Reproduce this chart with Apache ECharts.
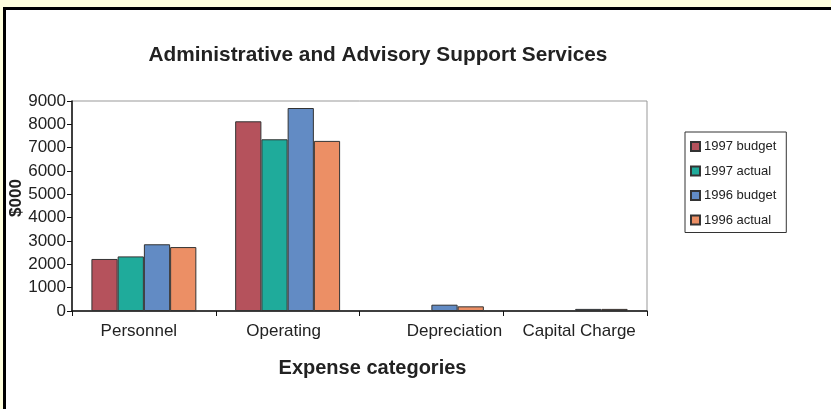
<!DOCTYPE html>
<html><head><meta charset="utf-8">
<script src="https://cdn.jsdelivr.net/npm/echarts@6/dist/echarts.min.js"></script>
<style>html,body{margin:0;padding:0;background:#FFFFDD;}#c{width:831px;height:409px;}</style>
</head><body><div id="c"></div>
<script>
var categories = ['Personnel', 'Operating', 'Depreciation', 'Capital Charge'];
var seriesNames = ['1997 budget', '1997 actual', '1996 budget', '1996 actual'];
var budget1997 = [2230, 8130, null, null];
var actual1997 = [2340, 7360, null, null];
var budget1996 = [2860, 8700, 270, 90];
var actual1996 = [2740, 7290, 200, 90];
var yTicks = [0, 1000, 2000, 3000, 4000, 5000, 6000, 7000, 8000, 9000];
var colors = ['#B5525C', '#1FAB9B', '#628BC4', '#EC8F65'];
var values = [budget1997, actual1997, budget1996, actual1996];

var chart = echarts.init(document.getElementById('c'));
var font = 'Liberation Sans, Arial, sans-serif';
// per-label horizontal nudges (Excel placed category labels slightly off-centre)
var labelPad = [[0, 10, 0, 0], [0, 8, 0, 0], [0, 0, 0, 46], [0, 0, 0, 8]];
var rich = {};
labelPad.forEach(function (p, i) {
  rich['c' + i] = {fontFamily: font, fontSize: 17, color: '#222', padding: p};
});
chart.setOption({
  backgroundColor: '#FFFFDD',
  animation: false,
  color: colors,
  graphic: [
    {type: 'rect', z: -10, shape: {x: 3, y: 7, width: 900, height: 500}, style: {fill: '#000'}},
    {type: 'rect', z: -9, shape: {x: 6, y: 10, width: 900, height: 500}, style: {fill: '#fff'}}
  ],
  title: {
    text: 'Administrative and Advisory Support Services',
    left: 373, textAlign: 'center', top: 40,
    textStyle: {fontFamily: font, fontSize: 20.8, fontWeight: 'bold', color: '#222'}
  },
  legend: {
    orient: 'vertical', left: 685, top: 132,
    width: 103,
    padding: [8, 10, 6, 5],
    borderColor: '#333', borderWidth: 1,
    itemWidth: 9, itemHeight: 9, itemGap: 11.5,
    icon: 'rect',
    textStyle: {fontFamily: font, fontSize: 13, color: '#222', padding: [0, 0, 0, -1]},
    data: seriesNames
  },
  grid: {left: 72, top: 101, right: 184, bottom: 98, outerBoundsMode: 'none', containLabel: false, show: true, borderColor: '#999', borderWidth: 1, backgroundColor: 'transparent'},
  xAxis: {
    type: 'category', data: categories,
    name: 'Expense categories', nameLocation: 'middle', nameGap: 47, nameMoveOverlap: false,
    nameTextStyle: {fontFamily: font, fontSize: 20, fontWeight: 'bold', color: '#222', padding: [0, 0, 0, 26]},
    axisLine: {lineStyle: {color: '#111', width: 1.5}},
    axisTick: {show: true, interval: 0, length: 5, lineStyle: {color: '#111'}},
    axisLabel: {
      interval: 0, hideOverlap: false,
      fontFamily: font, fontSize: 17, color: '#222', margin: 12, rich: rich,
      formatter: function (v, i) { return '{c' + i + '|' + v + '}'; }
    }
  },
  yAxis: {
    type: 'value', min: yTicks[0], max: yTicks[yTicks.length - 1], interval: 1000,
    name: '$000', nameLocation: 'middle', nameGap: 47, nameMoveOverlap: false,
    nameTextStyle: {fontFamily: font, fontSize: 17, fontWeight: 'bold', color: '#222', padding: [0, 0, 0, 16]},
    axisLine: {show: true, lineStyle: {color: '#111', width: 1.5}},
    axisTick: {show: true, length: 5, lineStyle: {color: '#111'}},
    splitLine: {show: false},
    axisLabel: {fontFamily: font, fontSize: 17, color: '#222', margin: 6, formatter: function (v) { return String(v); }}
  },
  series: seriesNames.map(function (n, i) {
    return {
      name: n, type: 'bar', data: values[i],
      barGap: '0%', barCategoryGap: '27%',
      itemStyle: {color: colors[i], borderColor: '#333', borderWidth: 1}
    };
  })
});
</script></body></html>
